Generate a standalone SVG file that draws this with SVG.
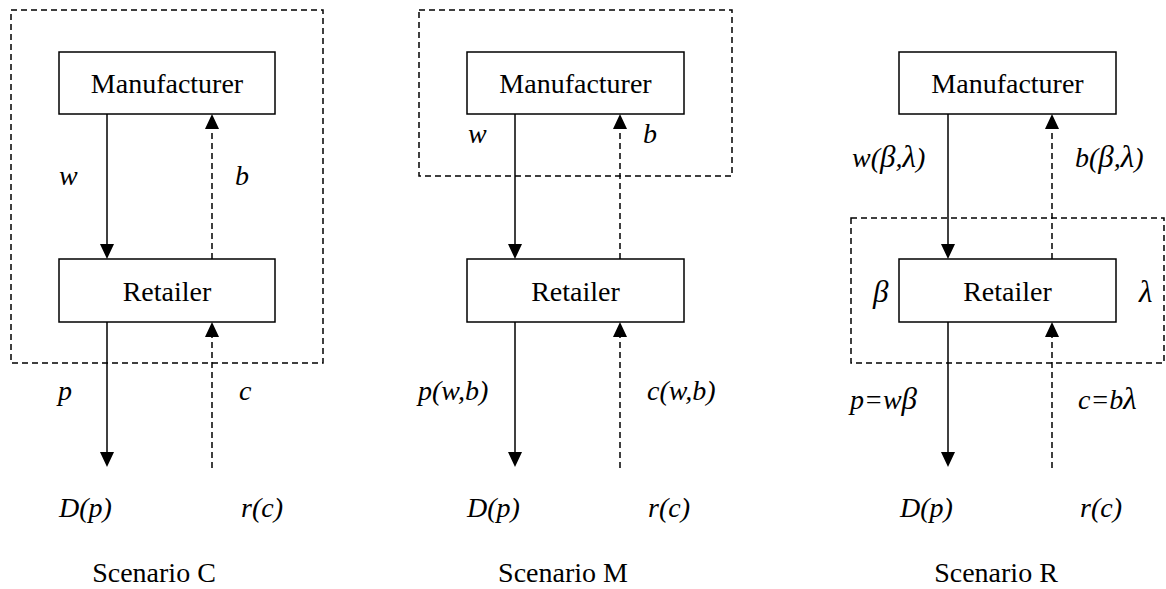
<svg xmlns="http://www.w3.org/2000/svg" width="1166" height="589" viewBox="0 0 1166 589">
<rect width="1166" height="589" fill="#fff"/>
<g id="groups" fill="none" stroke="#000" stroke-width="1.5" stroke-dasharray="6 4">
<rect x="11" y="10" width="312" height="353"/>
<rect x="419" y="10" width="313" height="166"/>
<rect x="851" y="218" width="313" height="145"/>
</g>
<g id="connectors" stroke="#000" stroke-width="1.5" fill="none">
<line x1="107" y1="114" x2="107" y2="246"/>
<line stroke-dasharray="6 4" x1="212" y1="259" x2="212" y2="127"/>
<line x1="107" y1="322" x2="107" y2="454"/>
<line stroke-dasharray="6 4" x1="212" y1="468" x2="212" y2="335"/>
<line x1="515" y1="114" x2="515" y2="246"/>
<line stroke-dasharray="6 4" x1="620" y1="259" x2="620" y2="127"/>
<line x1="515" y1="322" x2="515" y2="454"/>
<line stroke-dasharray="6 4" x1="620" y1="468" x2="620" y2="335"/>
<line x1="948" y1="114" x2="948" y2="246"/>
<line stroke-dasharray="6 4" x1="1052" y1="259" x2="1052" y2="127"/>
<line x1="948" y1="322" x2="948" y2="454"/>
<line stroke-dasharray="6 4" x1="1052" y1="468" x2="1052" y2="335"/>
<g fill="#000" stroke="none">
<polygon points="100,244 114,244 107,259"/>
<polygon points="205,129 219,129 212,114"/>
<polygon points="100,452 114,452 107,467"/>
<polygon points="205,337 219,337 212,322"/>
<polygon points="508,244 522,244 515,259"/>
<polygon points="613,129 627,129 620,114"/>
<polygon points="508,452 522,452 515,467"/>
<polygon points="613,337 627,337 620,322"/>
<polygon points="941,244 955,244 948,259"/>
<polygon points="1045,129 1059,129 1052,114"/>
<polygon points="941,452 955,452 948,467"/>
<polygon points="1045,337 1059,337 1052,322"/>
</g>
</g>
<g id="manufacturer-c"><rect fill="#fff" stroke="#000" stroke-width="1.5" x="59" y="52" width="216" height="62"/><text font-family="Liberation Serif" font-size="28" text-anchor="middle" x="167" y="93">Manufacturer</text></g>
<g id="retailer-c"><rect fill="#fff" stroke="#000" stroke-width="1.5" x="59" y="259" width="216" height="63"/><text font-family="Liberation Serif" font-size="28" text-anchor="middle" x="167" y="301">Retailer</text></g>
<g id="manufacturer-m"><rect fill="#fff" stroke="#000" stroke-width="1.5" x="467" y="52" width="217" height="62"/><text font-family="Liberation Serif" font-size="28" text-anchor="middle" x="575.5" y="93">Manufacturer</text></g>
<g id="retailer-m"><rect fill="#fff" stroke="#000" stroke-width="1.5" x="467" y="259" width="217" height="63"/><text font-family="Liberation Serif" font-size="28" text-anchor="middle" x="575.5" y="301">Retailer</text></g>
<g id="manufacturer-r"><rect fill="#fff" stroke="#000" stroke-width="1.5" x="899" y="52" width="217" height="62"/><text font-family="Liberation Serif" font-size="28" text-anchor="middle" x="1007.5" y="93">Manufacturer</text></g>
<g id="retailer-r"><rect fill="#fff" stroke="#000" stroke-width="1.5" x="899" y="259" width="217" height="63"/><text font-family="Liberation Serif" font-size="28" text-anchor="middle" x="1007.5" y="301">Retailer</text></g>
<g id="labels-c">
<text font-family="Liberation Serif" font-size="28" font-style="italic" x="59" y="185">w</text>
<text font-family="Liberation Serif" font-size="28" font-style="italic" x="235" y="185">b</text>
<text font-family="Liberation Serif" font-size="28" font-style="italic" x="58" y="400">p</text>
<text font-family="Liberation Serif" font-size="28" font-style="italic" x="239" y="400">c</text>
<text font-family="Liberation Serif" font-size="28" font-style="italic" x="59" y="517">D(p)</text>
<text font-family="Liberation Serif" font-size="28" font-style="italic" x="241" y="517">r(c)</text>
<text font-family="Liberation Serif" font-size="28" text-anchor="middle" x="154" y="582">Scenario C</text>
</g>
<g id="labels-m">
<text font-family="Liberation Serif" font-size="28" font-style="italic" x="468" y="143">w</text>
<text font-family="Liberation Serif" font-size="28" font-style="italic" x="643" y="143">b</text>
<text font-family="Liberation Serif" font-size="28" font-style="italic" x="418" y="400">p(w,b)</text>
<text font-family="Liberation Serif" font-size="28" font-style="italic" x="647" y="400">c(w,b)</text>
<text font-family="Liberation Serif" font-size="28" font-style="italic" x="467" y="517">D(p)</text>
<text font-family="Liberation Serif" font-size="28" font-style="italic" x="648" y="517">r(c)</text>
<text font-family="Liberation Serif" font-size="28" text-anchor="middle" x="563" y="582">Scenario M</text>
</g>
<g id="labels-r">
<text font-family="Liberation Serif" font-size="28" font-style="italic" x="852" y="167">w(<tspan font-size="31">β</tspan>,<tspan font-size="31">λ</tspan>)</text>
<text font-family="Liberation Serif" font-size="28" font-style="italic" x="1075" y="167">b(<tspan font-size="31">β</tspan>,<tspan font-size="31">λ</tspan>)</text>
<text font-family="Liberation Serif" font-size="31" font-style="italic" x="873" y="302">β</text>
<text font-family="Liberation Serif" font-size="31" font-style="italic" x="1139" y="302">λ</text>
<text font-family="Liberation Serif" font-size="28" font-style="italic" x="850" y="409">p=w<tspan font-size="31">β</tspan></text>
<text font-family="Liberation Serif" font-size="28" font-style="italic" x="1078" y="409">c=b<tspan font-size="31">λ</tspan></text>
<text font-family="Liberation Serif" font-size="28" font-style="italic" x="900" y="517">D(p)</text>
<text font-family="Liberation Serif" font-size="28" font-style="italic" x="1080" y="517">r(c)</text>
<text font-family="Liberation Serif" font-size="28" text-anchor="middle" x="996" y="582">Scenario R</text>
</g>
</svg>
